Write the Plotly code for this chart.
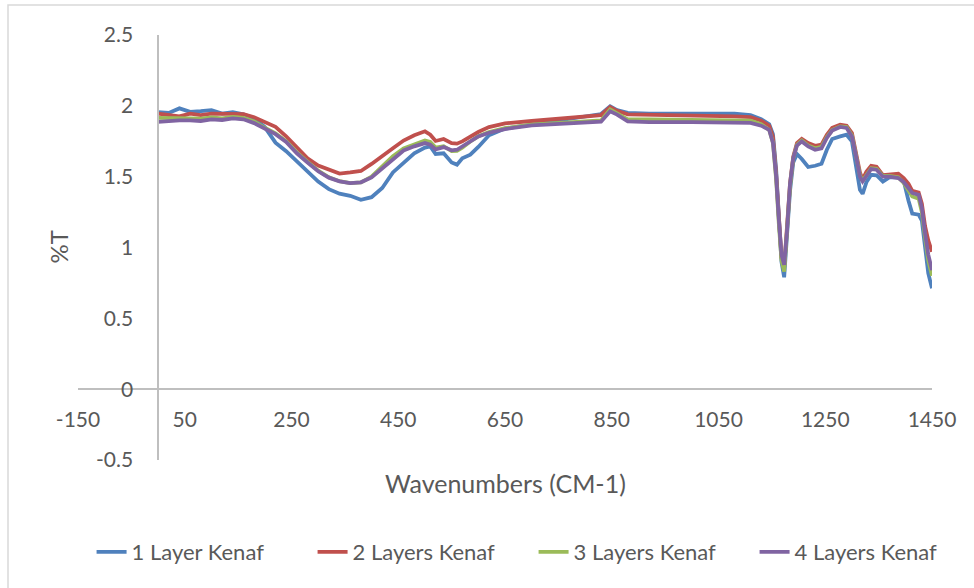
import plotly.graph_objects as go

# ---- data ----
wavenumbers = [0, 20, 40, 60, 80, 100, 120, 140, 160, 180, 200, 220, 240, 260, 280, 300, 320, 340, 360, 380,
               400, 420, 440, 460, 480, 500, 510, 520, 535, 550, 560, 570, 585, 600, 620, 650, 700, 750, 800, 830,
               847, 860, 880, 920, 1000, 1080, 1110, 1130, 1145, 1152, 1158, 1163, 1168, 1173, 1178, 1184, 1190,
               1197, 1206, 1218, 1231, 1243, 1253, 1263, 1278, 1290, 1300, 1309, 1315, 1320, 1327, 1336, 1346,
               1358, 1370, 1387, 1397, 1406, 1413, 1425, 1431, 1437, 1443, 1450]

layer1 = [1.955, 1.950, 1.982, 1.958, 1.962, 1.970, 1.945, 1.955, 1.940, 1.912, 1.850, 1.740, 1.680, 1.610, 1.535,
          1.465, 1.412, 1.380, 1.365, 1.337, 1.355, 1.420, 1.530, 1.595, 1.665, 1.705, 1.714, 1.660, 1.665, 1.600,
          1.585, 1.630, 1.655, 1.710, 1.792, 1.840, 1.867, 1.897, 1.925, 1.942, 1.996, 1.970, 1.950, 1.945, 1.945,
          1.945, 1.935, 1.905, 1.870, 1.800, 1.550, 1.170, 0.900, 0.790, 1.050, 1.400, 1.600, 1.660, 1.625, 1.568,
          1.577, 1.591, 1.690, 1.766, 1.784, 1.796, 1.749, 1.549, 1.407, 1.379, 1.460, 1.513, 1.510, 1.466, 1.495,
          1.495, 1.470, 1.330, 1.240, 1.232, 1.190, 1.006, 0.818, 0.712]

layer2 = [1.945, 1.935, 1.925, 1.945, 1.935, 1.945, 1.945, 1.948, 1.942, 1.920, 1.885, 1.852, 1.785, 1.705, 1.630,
          1.578, 1.550, 1.522, 1.530, 1.540, 1.590, 1.648, 1.700, 1.755, 1.792, 1.820, 1.796, 1.752, 1.766, 1.737,
          1.733, 1.749, 1.784, 1.815, 1.850, 1.876, 1.893, 1.910, 1.925, 1.935, 1.992, 1.965, 1.940, 1.938, 1.930,
          1.925, 1.920, 1.895, 1.860, 1.780, 1.520, 1.200, 0.930, 0.860, 1.100, 1.450, 1.640, 1.737, 1.766, 1.737,
          1.718, 1.726, 1.796, 1.845, 1.867, 1.860, 1.808, 1.643, 1.530, 1.480, 1.535, 1.577, 1.570, 1.510, 1.515,
          1.520, 1.490, 1.450, 1.400, 1.388, 1.310, 1.150, 1.050, 0.970]

layer3 = [1.915, 1.912, 1.915, 1.912, 1.910, 1.918, 1.912, 1.922, 1.915, 1.890, 1.845, 1.805, 1.750, 1.672, 1.605,
          1.542, 1.495, 1.468, 1.455, 1.460, 1.500, 1.575, 1.645, 1.700, 1.730, 1.755, 1.745, 1.705, 1.715, 1.680,
          1.682, 1.705, 1.748, 1.785, 1.815, 1.842, 1.868, 1.880, 1.890, 1.897, 1.975, 1.950, 1.905, 1.905, 1.903,
          1.900, 1.895, 1.870, 1.830, 1.740, 1.480, 1.170, 0.910, 0.830, 1.070, 1.430, 1.630, 1.725, 1.755, 1.720,
          1.700, 1.710, 1.780, 1.830, 1.855, 1.850, 1.790, 1.630, 1.510, 1.470, 1.510, 1.560, 1.555, 1.505, 1.505,
          1.495, 1.455, 1.395, 1.360, 1.345, 1.250, 1.070, 0.910, 0.800]

layer4 = [1.886, 1.895, 1.898, 1.898, 1.893, 1.905, 1.900, 1.912, 1.905, 1.878, 1.838, 1.800, 1.745, 1.665, 1.600,
          1.538, 1.493, 1.467, 1.455, 1.460, 1.495, 1.560, 1.628, 1.685, 1.714, 1.737, 1.726, 1.692, 1.709, 1.686,
          1.690, 1.714, 1.749, 1.784, 1.810, 1.836, 1.862, 1.872, 1.880, 1.888, 1.961, 1.938, 1.890, 1.885, 1.885,
          1.883, 1.880, 1.860, 1.830, 1.740, 1.500, 1.200, 0.950, 0.878, 1.100, 1.450, 1.630, 1.720, 1.749, 1.714,
          1.690, 1.700, 1.773, 1.825, 1.851, 1.844, 1.784, 1.620, 1.500, 1.466, 1.506, 1.554, 1.549, 1.500, 1.500,
          1.490, 1.462, 1.415, 1.385, 1.372, 1.280, 1.100, 0.950, 0.840]

series_names = ["1 Layer Kenaf", "2 Layers Kenaf", "3 Layers Kenaf", "4 Layers Kenaf"]
series_values = [layer1, layer2, layer3, layer4]
series_colors = ["#4F81BD", "#C0504D", "#9BBB59", "#8064A2"]

x_ticks = [-150, 50, 250, 450, 650, 850, 1050, 1250, 1450]
y_ticks = [-0.5, 0, 0.5, 1, 1.5, 2, 2.5]
x_range = [-150, 1450]
y_range = [-0.5, 2.5]

# ---- layout constants ----
W, H = 974, 588
ML, MR, MT, MB = 78, 42, 35, 128
PW, PH = W - ML - MR, H - MT - MB
FONT = "Lato"
TXT = "#595959"
AXC = "#BFBFBF"


def px_x(p):
    return (p - ML) / PW


def px_y(p):
    return (MT + PH - p) / PH


fig = go.Figure()
for name, vals, col in zip(series_names, series_values, series_colors):
    fig.add_trace(go.Scatter(x=wavenumbers, y=vals, mode="lines", name=name,
                             line=dict(color=col, width=3.8)))

fig.update_layout(
    width=W, height=H,
    margin=dict(l=ML, r=MR, t=MT, b=MB, autoexpand=False),
    paper_bgcolor="white", plot_bgcolor="white",
    font=dict(family=FONT, color=TXT, size=21),
    showlegend=True,
    legend=dict(orientation="h", x=-0.0005, xanchor="left", y=px_y(552), yanchor="middle",
                font=dict(size=22, color=TXT), entrywidth=162, indentation=14, traceorder="normal"),
    xaxis=dict(range=x_range, tickmode="array", tickvals=x_ticks, ticktext=[str(v) for v in x_ticks],
               showgrid=False, zeroline=False, showline=True, linecolor=AXC, linewidth=1.5,
               anchor="free", position=(0 - y_range[0]) / (y_range[1] - y_range[0]),
               ticks="outside", ticklen=12, tickcolor="rgba(0,0,0,0)",
               tickfont=dict(size=21, color=TXT)),
    yaxis=dict(range=y_range, tickmode="array", tickvals=y_ticks, ticktext=[f"{v:g}" for v in y_ticks],
               showgrid=False, zeroline=False, showline=True, linecolor=AXC, linewidth=1.5,
               anchor="free", position=(0 - x_range[0]) / (x_range[1] - x_range[0]),
               ticks="outside", ticklen=20, tickcolor="rgba(0,0,0,0)",
               tickfont=dict(size=21, color=TXT)),
    annotations=[
        dict(text="Wavenumbers (CM-1)", xref="paper", yref="paper", x=0.5, y=px_y(483),
             xanchor="center", yanchor="middle", showarrow=False, font=dict(size=25, color=TXT)),
        dict(text="%T", xref="paper", yref="paper", x=px_x(58), y=0.5, textangle=-90,
             xanchor="center", yanchor="middle", showarrow=False, font=dict(size=24, color=TXT)),
    ],
    shapes=[dict(type="rect", xref="paper", yref="paper",
                 x0=px_x(8), x1=px_x(W + 20), y0=px_y(H + 20), y1=px_y(5),
                 line=dict(color="#D9D9D9", width=1.5), layer="below")],
)

fig.write_html("out.html", config={"displayModeBar": False},
               post_script="document.body.style.margin='0';")
